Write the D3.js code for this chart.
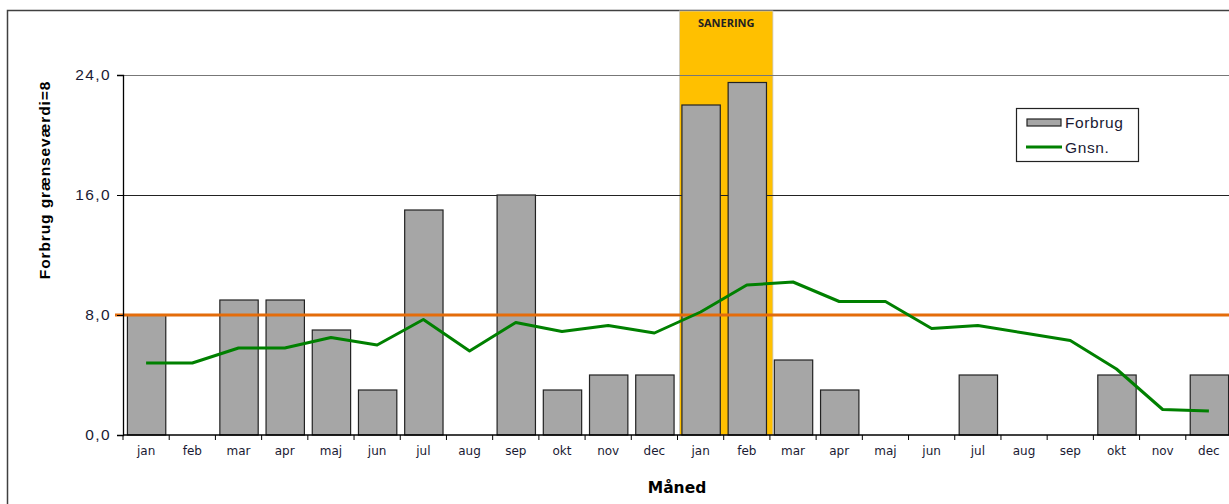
<!DOCTYPE html>
<html>
<head>
<meta charset="utf-8">
<script src="https://cdn.jsdelivr.net/npm/d3@7"></script>
<style>
  body { margin: 0; background: #fff; }
  svg { display: block; }
</style>
</head>
<body>
<svg width="1229" height="504"></svg>
<script>
const width = 1229;
const height = 504;

// months (two years)
const months = ["jan", "feb", "mar", "apr", "maj", "jun", "jul", "aug", "sep", "okt", "nov", "dec",
                "jan", "feb", "mar", "apr", "maj", "jun", "jul", "aug", "sep", "okt", "nov", "dec"];
// Forbrug
const forbrug = [8, 0, 9, 9, 7, 3, 15, 0, 16, 3, 4, 4,
                 22, 23.5, 5, 3, 0, 0, 4, 0, 0, 4, 0, 4];
// Gnsn.
const gnsn = [4.8, 4.8, 5.8, 5.8, 6.5, 6.0, 7.7, 5.6, 7.5, 6.9, 7.3, 6.8,
              8.2, 10.0, 10.2, 8.9, 8.9, 7.1, 7.3, 6.8, 6.3, 4.4, 1.7, 1.6];
const limit = 8;
const yTicks = [0, 8, 16, 24];
const saneringIdx = [12, 13];

const margin = { left: 123, right: -3, top: 75, bottom: 69 };
const svg = d3.select("svg");

const ids = months.map((m, i) => i);
const x = d3.scaleBand()
    .domain(ids)
    .range([margin.left, width - margin.right])
    .paddingInner(0.17)
    .paddingOuter(0.085);
const xBounds = d3.scaleLinear().domain([0, months.length]).range([margin.left, width - margin.right]);
const y = d3.scaleLinear().domain([0, 24]).range([height - margin.bottom, margin.top]);

// outer frame
svg.append("rect")
    .attr("x", 7.5).attr("y", 10.5)
    .attr("width", width + 20).attr("height", height + 20)
    .attr("fill", "none").attr("stroke", "#404040").attr("stroke-width", 1.5);

// sanering band
const bandX = xBounds(saneringIdx[0]) + 2;
const bandW = xBounds(saneringIdx[1] + 1) - xBounds(saneringIdx[0]) + 1;
svg.append("rect")
    .attr("x", bandX)
    .attr("y", 11)
    .attr("width", bandW)
    .attr("height", y(0) - 11)
    .attr("fill", "#FFC000")
    .attr("stroke", "#c8c8c8").attr("stroke-width", 0.8);

svg.append("text")
    .attr("x", bandX + bandW / 2)
    .attr("y", 27)
    .attr("text-anchor", "middle")
    .attr("font-family", "Open Sans, sans-serif")
    .attr("font-weight", "bold")
    .attr("font-size", 11)
    .attr("fill", "#222")
    .text("SANERING");

// gridlines
svg.append("g")
    .selectAll("line")
    .data(yTicks.filter(d => d > 0))
    .join("line")
    .attr("x1", margin.left).attr("x2", width)
    .attr("y1", d => y(d) + 0.5).attr("y2", d => y(d) + 0.5)
    .attr("stroke", d => d === 24 ? "#777" : "#222")
    .attr("stroke-width", 1);

// bars
svg.append("g")
    .selectAll("rect")
    .data(forbrug)
    .join("rect")
    .attr("x", (d, i) => x(i) + 0.5)
    .attr("y", d => y(d))
    .attr("width", x.bandwidth())
    .attr("height", d => y(0) - y(d))
    .attr("fill", d => d > 0 ? "#A6A6A6" : "none")
    .attr("stroke", d => d > 0 ? "#222" : "none")
    .attr("stroke-width", 1.2);

// limit line
svg.append("line")
    .attr("x1", margin.left - 8).attr("x2", width)
    .attr("y1", y(limit)).attr("y2", y(limit))
    .attr("stroke", "#E46C0A").attr("stroke-width", 3);

// average line
const line = d3.line()
    .x((d, i) => x(i) + x.bandwidth() / 2)
    .y(d => y(d));
svg.append("path")
    .datum(gnsn)
    .attr("d", line)
    .attr("fill", "none")
    .attr("stroke", "#008000")
    .attr("stroke-width", 3)
    .attr("stroke-linejoin", "round");

// y axis
const yAxis = svg.append("g")
    .attr("transform", `translate(${margin.left},0)`)
    .call(d3.axisLeft(y).tickValues(yTicks).tickSize(6).tickFormat(d => d3.format(".1f")(d).replace(".", ",")));
yAxis.select(".domain").attr("stroke", "#000").attr("stroke-width", 1.3);
yAxis.selectAll(".tick line").attr("stroke", "#000");
yAxis.selectAll("text")
    .attr("font-family", "Liberation Sans, Arial, sans-serif")
    .attr("font-size", 15.5)
    .attr("letter-spacing", 1.4)
    .attr("fill", "#1a1a33")
    .attr("x", -12);

// x axis
const xAxis = svg.append("g")
    .attr("transform", `translate(0,${y(0)})`);
xAxis.append("line")
    .attr("x1", margin.left).attr("x2", width)
    .attr("stroke", "#000").attr("stroke-width", 1.3);
xAxis.selectAll(".tk")
    .data(d3.range(months.length + 1))
    .join("line")
    .attr("class", "tk")
    .attr("x1", d => xBounds(d)).attr("x2", d => xBounds(d))
    .attr("y1", 0).attr("y2", 5)
    .attr("stroke", "#000");
xAxis.selectAll("text")
    .data(months)
    .join("text")
    .attr("x", (d, i) => x(i) + x.bandwidth() / 2)
    .attr("y", 20)
    .attr("text-anchor", "middle")
    .attr("font-family", "DejaVu Sans, Verdana, sans-serif")
    .attr("font-size", 12)
    .attr("fill", "#1a1a33")
    .text(d => d);

// axis titles
svg.append("text")
    .attr("transform", `translate(50,${y(17)}) rotate(-90)`)
    .attr("text-anchor", "middle")
    .attr("font-family", "Liberation Sans, Arial, sans-serif")
    .attr("font-weight", "bold")
    .attr("font-size", 15.5)
    .attr("letter-spacing", 0.9)
    .attr("fill", "#000")
    .text("Forbrug grænseværdi=8");

svg.append("text")
    .attr("x", 677)
    .attr("y", 493)
    .attr("text-anchor", "middle")
    .attr("font-family", "DejaVu Sans, Verdana, sans-serif")
    .attr("font-weight", "bold")
    .attr("font-size", 15.5)
    .attr("fill", "#000")
    .text("Måned");

// legend
const legend = svg.append("g").attr("transform", "translate(1016,108)");
legend.append("rect")
    .attr("x", 0.5).attr("y", 0.5).attr("width", 122).attr("height", 53)
    .attr("fill", "#fff").attr("stroke", "#222").attr("stroke-width", 1.2);
legend.append("rect")
    .attr("x", 11).attr("y", 11).attr("width", 34).attr("height", 7)
    .attr("fill", "#A6A6A6").attr("stroke", "#222").attr("stroke-width", 1.2);
legend.append("line")
    .attr("x1", 10).attr("x2", 46).attr("y1", 39).attr("y2", 39)
    .attr("stroke", "#008000").attr("stroke-width", 3);
legend.selectAll("text")
    .data(["Forbrug", "Gnsn."])
    .join("text")
    .attr("x", 49)
    .attr("y", (d, i) => 20 + i * 25)
    .attr("font-family", "Liberation Sans, Arial, sans-serif")
    .attr("font-size", 15.5)
    .attr("letter-spacing", 0.6)
    .attr("fill", "#1a1a33")
    .text(d => d);
</script>
</body>
</html>
